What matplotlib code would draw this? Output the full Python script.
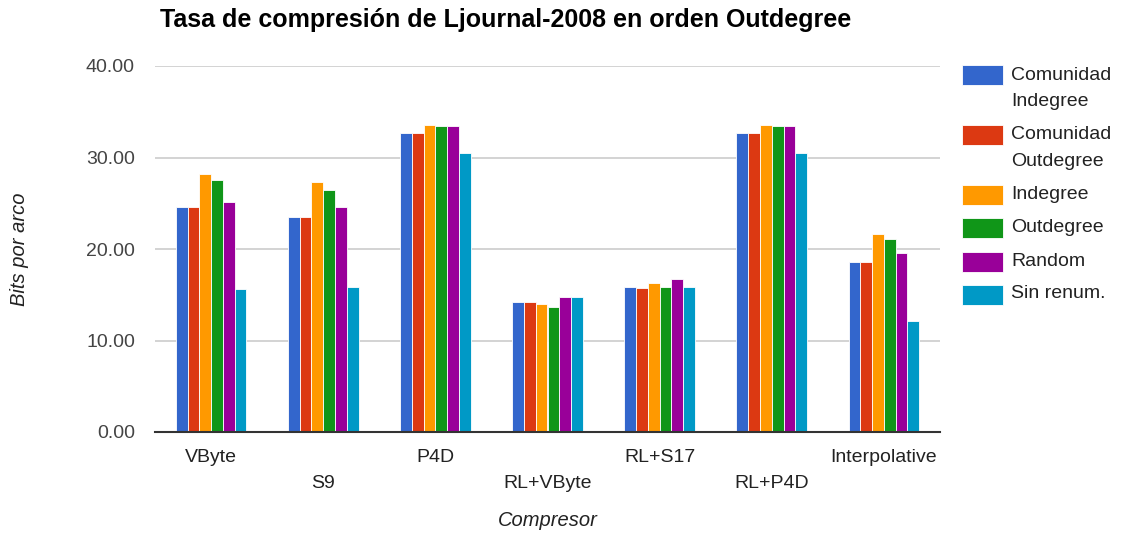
import matplotlib
matplotlib.use("Agg")
import matplotlib.pyplot as plt
from matplotlib.patches import Rectangle
import numpy as np

categories = ["VByte", "S9", "P4D", "RL+VByte", "RL+S17", "RL+P4D", "Interpolative"]
series_names = ["Comunidad\nIndegree", "Comunidad\nOutdegree", "Indegree", "Outdegree", "Random", "Sin renum."]
comunidad_indegree = [24.55, 23.5, 32.7, 14.2, 15.9, 32.7, 18.55]
comunidad_outdegree = [24.55, 23.5, 32.7, 14.2, 15.7, 32.7, 18.55]
indegree = [28.2, 27.3, 33.55, 14.0, 16.25, 33.55, 21.65]
outdegree = [27.5, 26.5, 33.4, 13.7, 15.9, 33.4, 21.1]
random_order = [25.1, 24.55, 33.4, 14.7, 16.75, 33.4, 19.55]
sin_renum = [15.6, 15.9, 30.45, 14.7, 15.9, 30.45, 12.15]
yticks = [0, 10, 20, 30, 40]

series = [comunidad_indegree, comunidad_outdegree, indegree, outdegree, random_order, sin_renum]
colors = ["#3366cc", "#dc3912", "#ff9900", "#109618", "#990099", "#0099c6"]

plt.rcParams['font.family'] = ['Liberation Sans', 'DejaVu Sans']

W, H = 1121, 535
fig = plt.figure(figsize=(W/100, H/100), dpi=100)
ax = fig.add_axes([155/W, (H-432)/H, (940-155)/W, (432-66)/H])

n = len(series)
x = np.arange(len(categories))
group_w = 0.63
bw = group_w / n
for i, (vals, col, name) in enumerate(zip(series, colors, series_names)):
    ax.bar(x - group_w/2 + bw*(i+0.5), vals, width=bw, color=col, label=name,
           edgecolor='white', linewidth=0.6, zorder=3)

ax.set_xlim(-0.5, len(categories)-0.5)
ax.set_ylim(0, 40)
ax.set_yticks(yticks)
ax.set_yticklabels([f"{v:.2f}" for v in yticks], fontsize=14, color="#444444")
ax.tick_params(axis='y', length=0, pad=14.4)
ax.tick_params(axis='x', length=0)
ax.set_xticks(x)
ax.set_xticklabels([])
for i, c in enumerate(categories):
    ypix = 457 if i % 2 == 0 else 484
    ax.text(i, (432-ypix)/366, c, transform=ax.get_xaxis_transform(), ha='center', va='center',
            fontsize=14, color="#222222")
ax.grid(axis='y', color='#cccccc', linewidth=1.2, zorder=0)
for s in ['top', 'right', 'left']:
    ax.spines[s].set_visible(False)
ax.spines['bottom'].set_color('#333333')
ax.spines['bottom'].set_linewidth(1.5)
ax.spines['bottom'].set_zorder(4)

fig.text(20/W, 1 - 249/H, "Bits por arco", rotation=90, ha='center', va='center',
         fontsize=14.5, style='italic', color='#222222')
fig.text(548/W, 1 - 520/H, "Compresor", ha='center', va='center',
         fontsize=14.5, style='italic', color='#222222')
fig.text(160/W, 1 - 20/H, "Tasa de compresión de Ljournal-2008 en orden Outdegree",
         ha='left', va='center', fontsize=18, fontweight='bold', color='#000000')

# Legend (manual layout)
line_y = [[75, 101], [135, 161], [195], [228], [261], [294]]
rect_top = [65, 125, 185, 218, 252, 285]
for name, col, ys, rt in zip(series_names, colors, line_y, rect_top):
    fig.patches.append(Rectangle((962/W, 1 - (rt+20)/H), 41/W, 20/H,
                                 transform=fig.transFigure, facecolor=col,
                                 edgecolor='white', linewidth=0.6))
    for line, yy in zip(name.split("\n"), ys):
        fig.text(1011/W, 1 - yy/H, line, ha='left', va='center', fontsize=14,
                 color='#222222')

fig.savefig("out.png", dpi=100)
